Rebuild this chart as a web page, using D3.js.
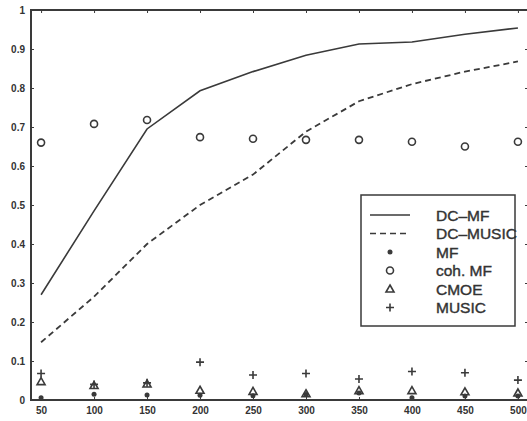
<!DOCTYPE html>
<html>
<head>
<meta charset="utf-8">
<script src="https://cdn.jsdelivr.net/npm/d3@7"></script>
<style>
  body { margin: 0; background: #fff; }
  svg { display: block; font-family: "Liberation Sans", Arial, sans-serif; }
</style>
</head>
<body>
<svg id="chart" width="527" height="421"></svg>
<script>
(function() {

    var xs = [50, 100, 150, 200, 250, 300, 350, 400, 450, 500];
    var dcMF = [0.27, 0.485, 0.695, 0.793, 0.842, 0.884, 0.913, 0.918, 0.938, 0.954];
    var dcMUSIC = [0.148, 0.265, 0.40, 0.50, 0.578, 0.688, 0.766, 0.81, 0.842, 0.868];
    var mf = [0.006, 0.015, 0.013, 0.012, 0.011, 0.014, 0.018, 0.006, 0.01, 0.01];
    var cohMF = [0.66, 0.708, 0.718, 0.674, 0.67, 0.667, 0.667, 0.662, 0.65, 0.662];
    var cmoe = [0.047, 0.037, 0.041, 0.025, 0.022, 0.016, 0.024, 0.024, 0.021, 0.018];
    var music = [0.068, 0.04, 0.044, 0.097, 0.064, 0.068, 0.054, 0.073, 0.07, 0.051];
    var yTicks = [0, 0.1, 0.2, 0.3, 0.4, 0.5, 0.6, 0.7, 0.8, 0.9, 1];
    var legendNames = ['DC\u2013MF', 'DC\u2013MUSIC', 'MF', 'coh. MF', 'CMOE', 'MUSIC'];

    var ink = '#3a3a3a';
    var svg = d3.select('#chart');

    var x = d3.scaleLinear().domain([40.5, 509.5]).range([31, 528]);
    var y = d3.scaleLinear().domain([0, 1]).range([400, 10]);

    // frame
    svg.append('rect')
        .attr('x', 31).attr('y', 10)
        .attr('width', 497).attr('height', 390)
        .attr('fill', 'none').attr('stroke', ink).attr('stroke-width', 2);

    // ticks (inward) on all four sides
    var tickStyle = function(g) {
        g.select('.domain').remove();
        g.selectAll('.tick line').attr('stroke', ink).attr('stroke-width', 1);
        g.selectAll('.tick text')
            .attr('fill', '#333')
            .attr('font-weight', 'bold')
            .attr('font-size', 10);
    };

    svg.append('g')
        .attr('transform', 'translate(0,400)')
        .call(d3.axisBottom(x).tickValues(xs).tickSize(-3).tickPadding(7))
        .call(tickStyle);
    svg.append('g')
        .attr('transform', 'translate(0,10)')
        .call(d3.axisTop(x).tickValues(xs).tickSize(-3).tickFormat(''))
        .call(tickStyle);
    svg.append('g')
        .attr('transform', 'translate(31,0)')
        .call(d3.axisLeft(y).tickValues(yTicks).tickSize(-3).tickPadding(6)
            .tickFormat(function(d) { return d === 0 || d === 1 ? d : d3.format('.1f')(d); }))
        .call(tickStyle);
    svg.append('g')
        .attr('transform', 'translate(528,0)')
        .call(d3.axisRight(y).tickValues(yTicks).tickSize(-3).tickFormat(''))
        .call(tickStyle);

    var line = d3.line()
        .x(function(d, i) { return x(xs[i]); })
        .y(function(d) { return y(d); });

    svg.append('path').datum(dcMF)
        .attr('d', line)
        .attr('fill', 'none').attr('stroke', ink).attr('stroke-width', 1.6);
    svg.append('path').datum(dcMUSIC)
        .attr('d', line)
        .attr('fill', 'none').attr('stroke', ink).attr('stroke-width', 1.8)
        .attr('stroke-dasharray', '6,4');

    // marker drawers
    function dot(g, cx, cy) {
        g.append('circle').attr('cx', cx).attr('cy', cy).attr('r', 2.5).attr('fill', ink);
    }
    function ring(g, cx, cy) {
        g.append('circle').attr('cx', cx).attr('cy', cy).attr('r', 3.5)
            .attr('fill', 'none').attr('stroke', ink).attr('stroke-width', 1.6);
    }
    function tri(g, cx, cy) {
        g.append('path')
            .attr('d', 'M' + cx + ',' + (cy - 4) + 'L' + (cx + 4) + ',' + (cy + 3) + 'L' + (cx - 4) + ',' + (cy + 3) + 'Z')
            .attr('fill', 'none').attr('stroke', ink).attr('stroke-width', 1.6);
    }
    function plus(g, cx, cy) {
        g.append('path')
            .attr('d', 'M' + (cx - 4) + ',' + cy + 'H' + (cx + 4) + 'M' + cx + ',' + (cy - 4) + 'V' + (cy + 4))
            .attr('stroke', ink).attr('stroke-width', 1.6);
    }

    var marks = svg.append('g');
    [[mf, dot], [cohMF, ring], [cmoe, tri], [music, plus]].forEach(function(s) {
        s[0].forEach(function(v, i) { s[1](marks, x(xs[i]), y(v)); });
    });

    // legend
    var lg = svg.append('g');
    lg.append('rect')
        .attr('x', 361).attr('y', 195).attr('width', 154).attr('height', 131)
        .attr('fill', '#fff').attr('stroke', ink).attr('stroke-width', 1.5);
    var drawers = [null, null, dot, ring, tri, plus];
    legendNames.forEach(function(name, i) {
        var cy = 215 + i * 18.5;
        if (i === 0) {
            lg.append('line').attr('x1', 370).attr('x2', 410).attr('y1', cy).attr('y2', cy)
                .attr('stroke', ink).attr('stroke-width', 1.6);
        } else if (i === 1) {
            lg.append('line').attr('x1', 370).attr('x2', 410).attr('y1', cy).attr('y2', cy)
                .attr('stroke', ink).attr('stroke-width', 1.6).attr('stroke-dasharray', '6,4');
        } else {
            drawers[i](lg, 390, cy);
        }
        lg.append('text')
            .attr('x', 436).attr('y', cy + 5.5)
            .attr('font-size', 15.5).attr('fill', '#333')
            .attr('stroke', '#333').attr('stroke-width', 0.4)
            .text(name);
    });

})();
</script>
</body>
</html>
